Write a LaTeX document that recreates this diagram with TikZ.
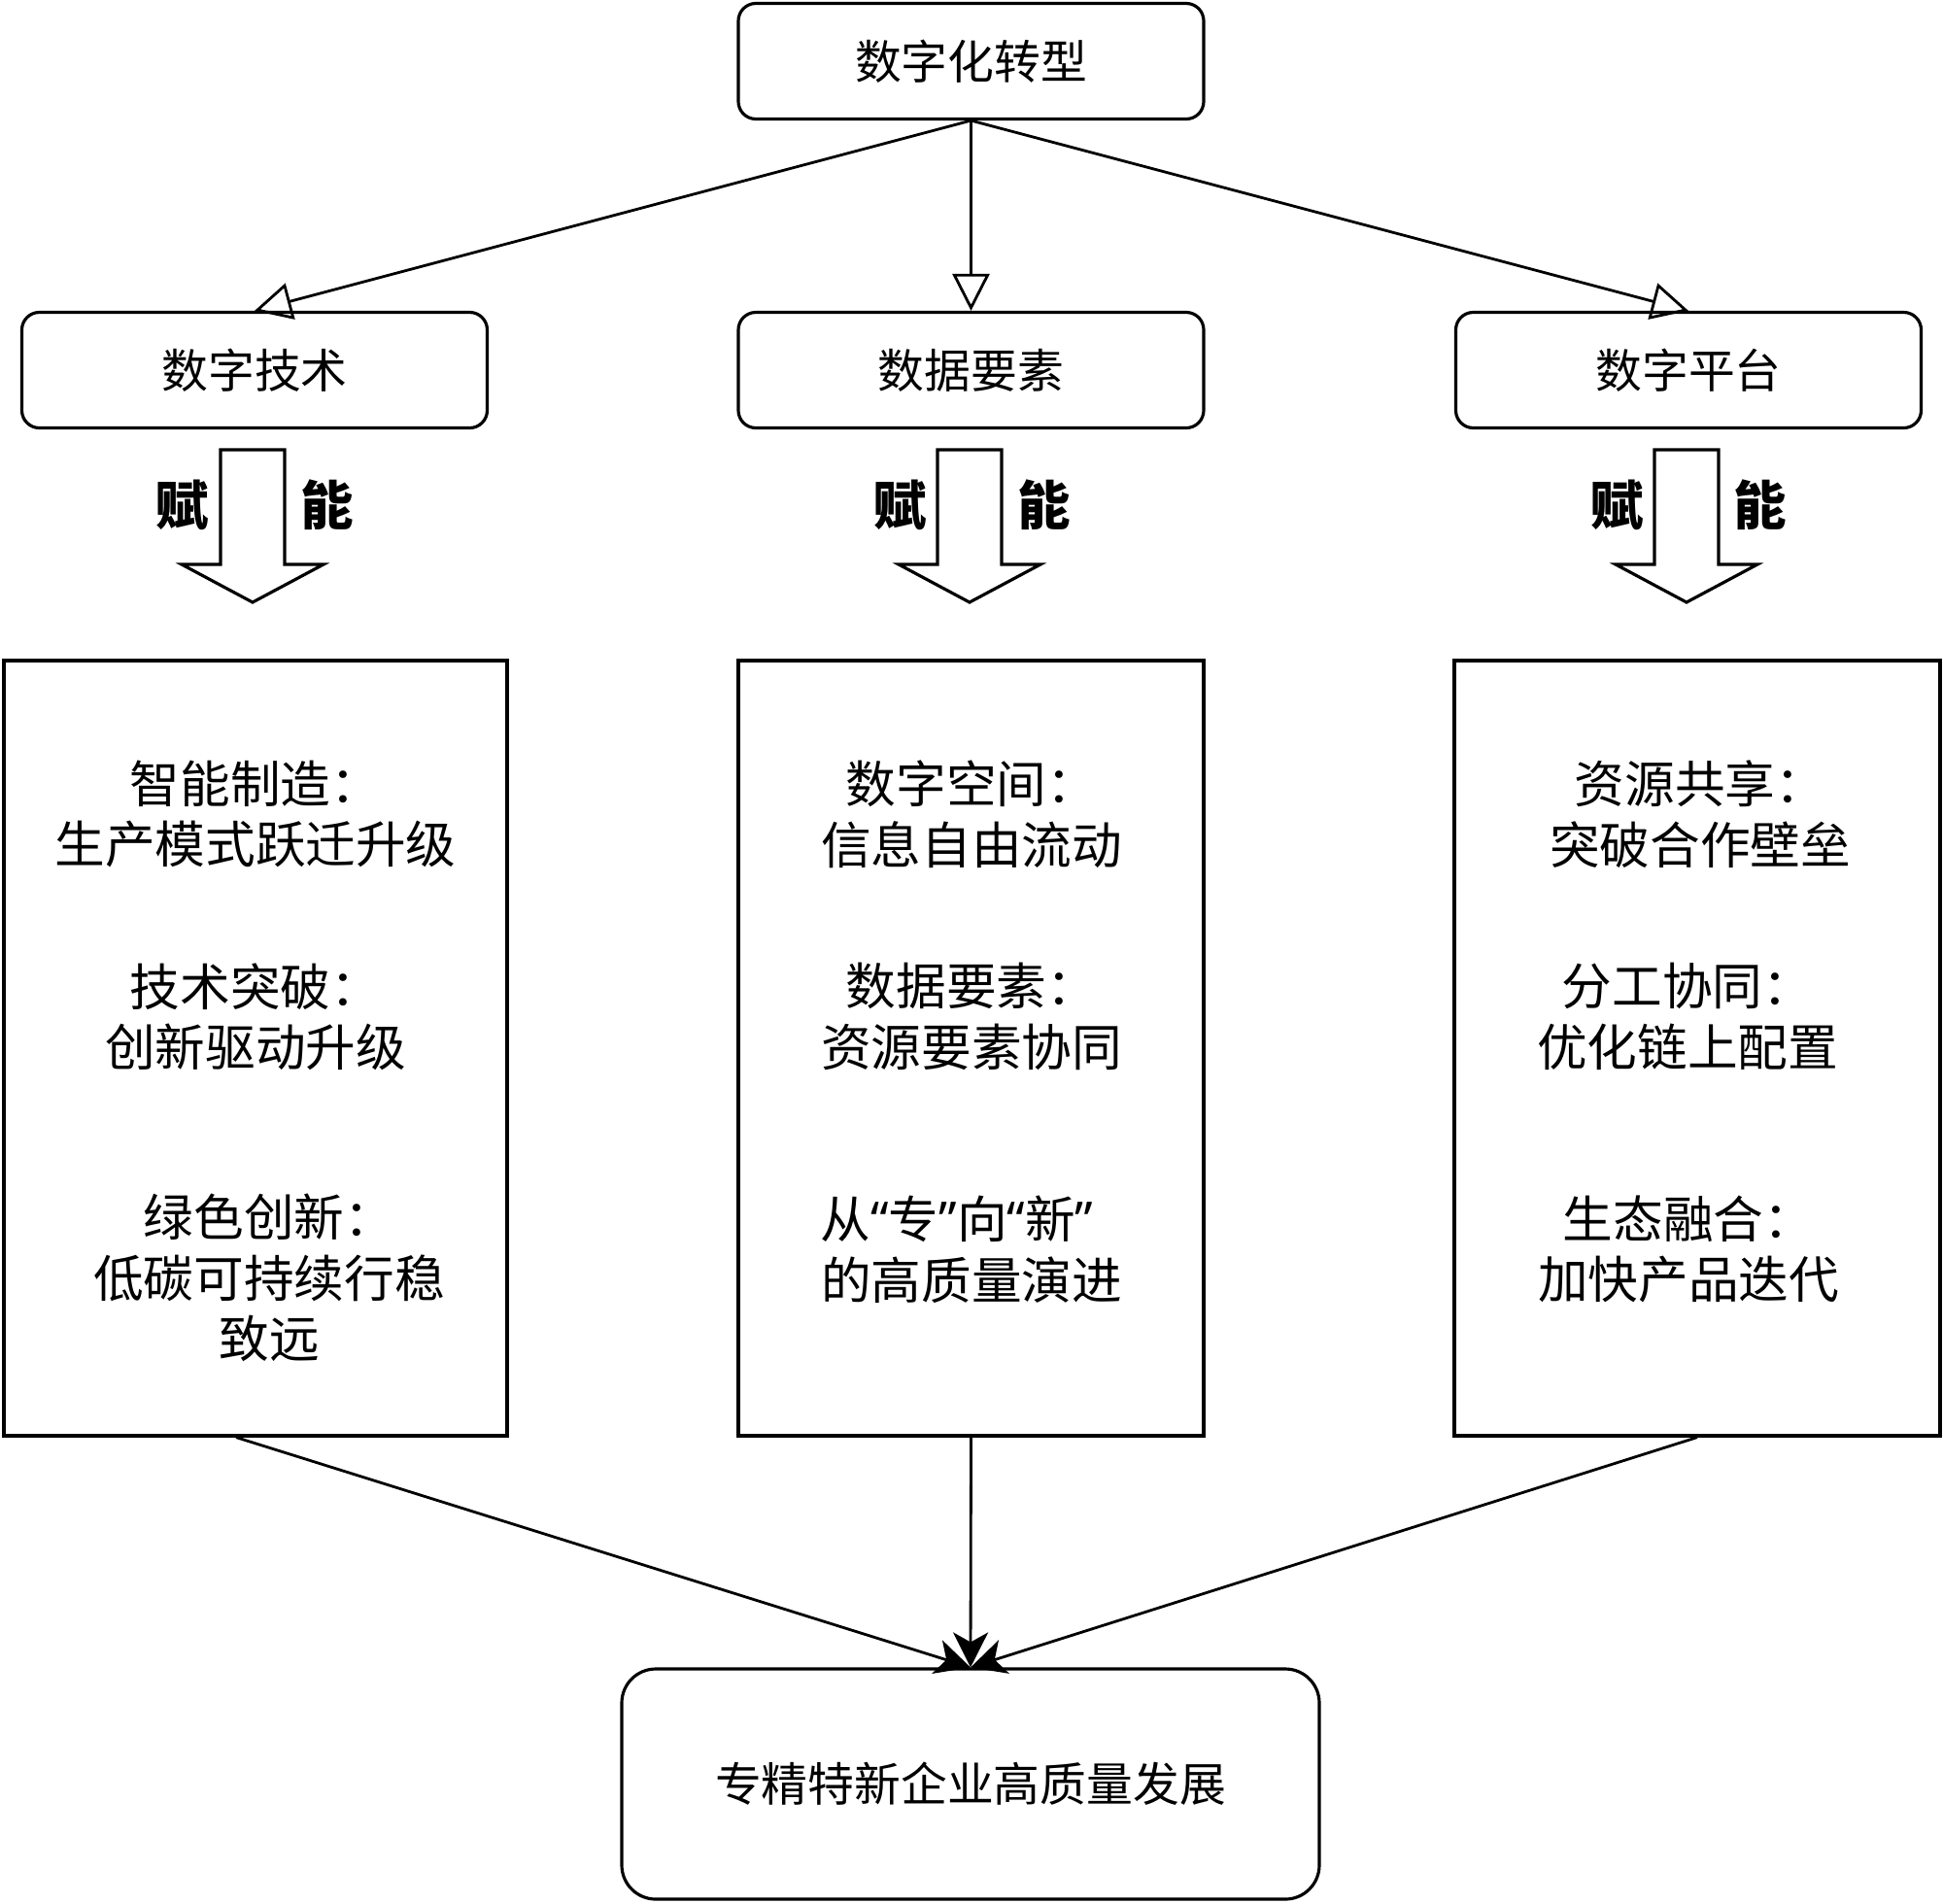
\documentclass[tikz,border=0pt]{standalone}
\usepackage{fontspec}
\setmainfont{Noto Sans CJK SC}
\newfontfamily\quotefont{Noto Sans}
\newcommand{\qopen}{{\quotefont “}}
\newcommand{\qclose}{{\quotefont ”}}
\usetikzlibrary{positioning,arrows.meta}
\tikzset{
  headbox/.style={draw,rounded corners=1.8mm,line width=0.9pt,inner sep=0pt,align=center,
    minimum width=4.79cm,minimum height=1.19cm,font=\fontsize{13.6pt}{16pt}\selectfont},
  listbox/.style={draw,line width=0.9pt,inner sep=0pt,minimum height=7.98cm},
  itemtxt/.style={align=center,inner sep=0pt,font=\fontsize{14.7pt}{17.8pt}\selectfont},
  goalbox/.style={draw,rounded corners=3.5mm,line width=0.9pt,inner sep=0pt,
    minimum width=7.18cm,minimum height=2.37cm,font=\fontsize{13.6pt}{16pt}\selectfont},
  fu/.style={inner sep=0pt,font=\fontsize{15.5pt}{18pt}\selectfont\bfseries},
  fuarrow/.pic={\draw[line width=0.9pt,fill=white] (-0.33,0) -- (-0.33,-1.18) -- (-0.73,-1.18)
    -- (0,-1.57) -- (0.73,-1.18) -- (0.33,-1.18) -- (0.33,0) -- cycle;},
}

\begin{document}
\begin{tikzpicture}[>=Stealth,line width=0.8pt]
  \useasboundingbox (0,0) rectangle (20,-19.59);
  \node[headbox] (dt) at (9.995,-0.63) {数字化转型};
  \node[headbox] (tech) at (2.62,-3.81) {数字技术};
  \node[headbox] (data) at (9.995,-3.81) {数据要素};
  \node[headbox] (plat) at (17.38,-3.81) {数字平台};
  % enabling arrows
  \pic at (2.60,-4.63) {fuarrow};
  \pic at (9.98,-4.63) {fuarrow};
  \pic at (17.36,-4.63) {fuarrow};
  \node[fu] (fu1) at (1.88,-5.20) {赋};  \node[fu] (neng1) at (3.37,-5.20) {能};
  \node[fu] (fu2) at (9.27,-5.20) {赋};  \node[fu] (neng2) at (10.75,-5.20) {能};
  \node[fu] (fu3) at (16.65,-5.20) {赋}; \node[fu] (neng3) at (18.12,-5.20) {能};
  % three columns
  \node[listbox,minimum width=5.18cm] (col1) at (2.63,-10.79) {};
  \node[listbox,minimum width=4.79cm] (col2) at (9.995,-10.79) {};
  \node[listbox,minimum width=5.00cm] (col3) at (17.47,-10.79) {};
  \node[itemtxt] (tech1) at (2.63,-8.38) {智能制造：\\生产模式跃迁升级};
  \node[itemtxt] (tech2) at (2.63,-10.465) {技术突破：\\创新驱动升级};
  \node[itemtxt] (tech3) at (2.77,-13.155) {绿色创新：\\低碳可持续行稳\\致远};
  \node[itemtxt] (data1) at (10.00,-8.38) {数字空间：\\信息自由流动};
  \node[itemtxt] (data2) at (10.00,-10.465) {数据要素：\\资源要素协同};
  \node[itemtxt] (data3) at (10.00,-12.86) {从\qopen 专\qclose 向\qopen 新\qclose\kern0.3cm\\的高质量演进};
  \node[itemtxt] (plat1) at (17.50,-8.38) {资源共享：\\突破合作壁垒};
  \node[itemtxt] (plat2) at (17.37,-10.465) {分工协同：\\优化链上配置};
  \node[itemtxt] (plat3) at (17.38,-12.86) {生态融合：\\加快产品迭代};
  \node[goalbox] (goal) at (9.99,-18.365) {专精特新企业高质量发展};
  \draw[-{Triangle[open,length=3.8mm,width=3.8mm]}] (dt.south) -- (tech.north);
  \draw[-{Triangle[open,length=3.8mm,width=3.8mm]}] (dt.south) -- (data.north);
  \draw[-{Triangle[open,length=3.8mm,width=3.8mm]}] (dt.south) -- (plat.north);
  \draw[-{Stealth[length=3.6mm,width=3.6mm,inset=1mm]}] ([xshift=-2mm]col1.south) -- (goal.north);
  \draw[-{Stealth[length=3.6mm,width=3.6mm,inset=1mm]}] (col2.south) -- (goal.north);
  \draw[-{Stealth[length=3.6mm,width=3.6mm,inset=1mm]}] (col3.south) -- (goal.north);
\end{tikzpicture}
\end{document}
